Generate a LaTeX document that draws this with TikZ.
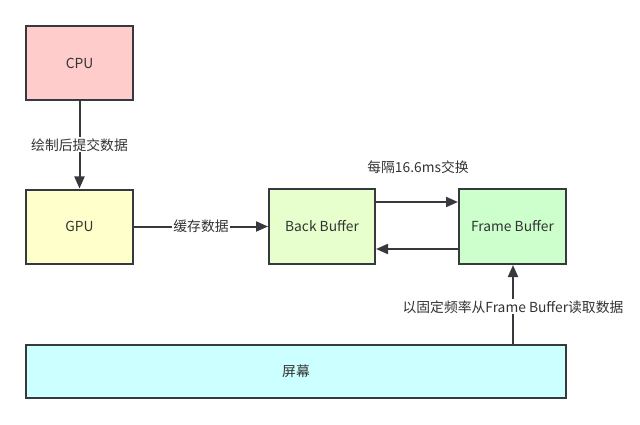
\documentclass[tikz,border=0pt]{standalone}
\usepackage{fontspec}
\setmainfont{Noto Sans CJK SC}
\usetikzlibrary{arrows.meta}
\definecolor{strk}{HTML}{36393D}
\definecolor{txt}{HTML}{333333}
\definecolor{cpuc}{HTML}{FFCCCC}
\definecolor{gpuc}{HTML}{FFFFCC}
\definecolor{backc}{HTML}{E6FFCC}
\definecolor{framec}{HTML}{CCFFCC}
\definecolor{scrc}{HTML}{CCFFFF}
\begin{document}
\begin{tikzpicture}[x=1pt,y=-1pt,
  boxst/.style={draw=strk,line width=2pt,inner sep=0pt,text=txt,font=\fontsize{13.8}{16}\selectfont},
  conn/.style={draw=strk,line width=2pt,-{Triangle[length=12pt,width=10pt]}},
  lbl/.style={text=txt,font=\fontsize{13.8}{16}\selectfont,inner sep=1pt},
  onl/.style={lbl,fill=white}]
\useasboundingbox (0,0) rectangle (640,425);
\node[boxst,fill=cpuc,minimum width=107pt,minimum height=74pt] (cpu) at (79.5,63) {CPU};
\node[boxst,fill=gpuc,minimum width=107pt,minimum height=74pt] (gpu) at (79.5,226.5) {GPU};
\node[boxst,fill=backc,minimum width=106pt,minimum height=75pt] (back) at (322,226.5) {Back Buffer};
\node[boxst,fill=framec,minimum width=107pt,minimum height=75pt] (frame) at (512.5,226.5) {Frame Buffer};
\node[boxst,fill=scrc,minimum width=540pt,minimum height=53pt] (scr) at (296,371.5) {屏幕};
\draw[conn] (cpu) -- node[onl] {绘制后提交数据} (gpu);
\draw[conn] (gpu) -- node[onl] {缓存数据} (back);
\draw[conn] (back.east |- 0,202) -- (frame.west |- 0,202);
\draw[conn] (frame.west |- 0,249) -- (back.east |- 0,249);
\node[lbl] (swap) at (418,167) {每隔16.6ms交换};
\draw[conn] (scr.north -| 513,0) -- node[onl,pos=0.47] {以固定频率从Frame Buffer读取数据} (frame.south -| 513,0);
\end{tikzpicture}
\end{document}
